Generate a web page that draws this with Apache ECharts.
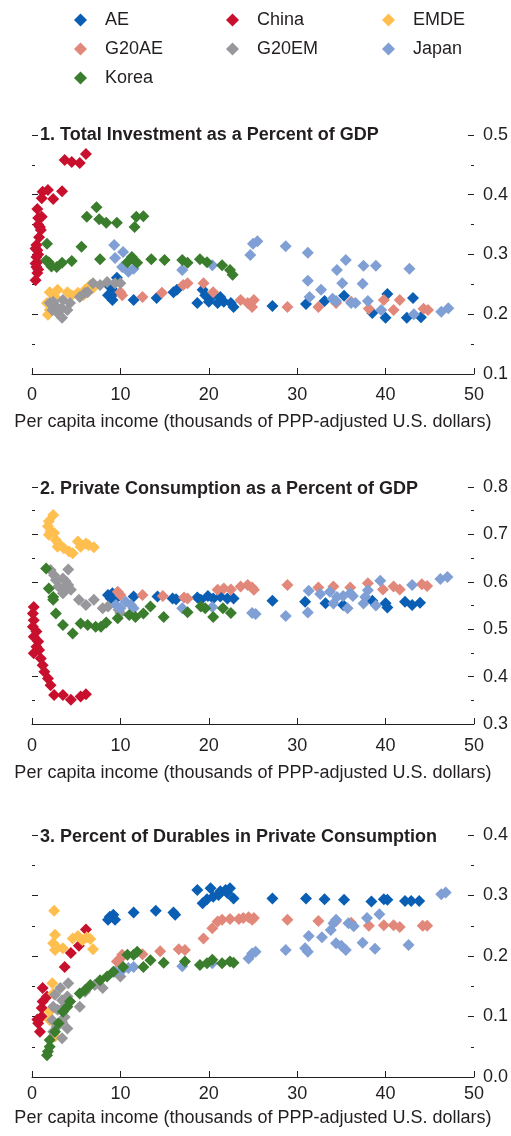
<!DOCTYPE html>
<html>
<head>
<meta charset="utf-8">
<script src="https://cdn.jsdelivr.net/npm/echarts@6/dist/echarts.min.js"></script>
<style>
html,body{margin:0;padding:0;background:#fff;}
#chart{width:511px;height:1136px;}
</style>
</head>
<body>
<div id="chart"></div>
<script>
// ---------- DATA ----------
const seriesNames = ['AE','China','EMDE','G20AE','G20EM','Japan','Korea'];
const panelTitles = [
  '1. Total Investment as a Percent of GDP',
  '2. Private Consumption as a Percent of GDP',
  '3. Percent of Durables in Private Consumption'
];
const xTicks = [0,10,20,30,40,50];
const yRanges = [[0.1,0.5],[0.3,0.8],[0.0,0.4]];
const xAxisName = 'Per capita income (thousands of PPP-adjusted U.S. dollars)';

// Panel 1: total investment / GDP
const p1_AE = [[9.6,0.261],[8.8,0.246],[9.4,0.237],[8.6,0.232],[9.1,0.224],[11.5,0.224],[14.1,0.227],[16.0,0.237],[16.4,0.241],[19.3,0.241],[19.6,0.232],[18.7,0.219],[20.0,0.221],[20.5,0.232],[21.3,0.229],[21.7,0.221],[22.5,0.219],[22.8,0.212],[21.0,0.219],[27.2,0.214],[31.0,0.217],[33.1,0.222],[35.3,0.231],[38.5,0.202],[40.0,0.194],[40.2,0.234],[42.4,0.194],[43.1,0.227],[44.0,0.195]];
const p1_China = [[3.7,0.458],[4.5,0.455],[5.4,0.453],[6.1,0.468],[1.2,0.405],[1.8,0.408],[1.1,0.394],[2.4,0.393],[3.4,0.406],[0.6,0.376],[0.7,0.361],[1.1,0.363],[0.9,0.346],[1.0,0.341],[0.8,0.329],[0.5,0.316],[0.6,0.307],[0.5,0.296],[0.6,0.287],[0.5,0.279],[0.6,0.269],[0.4,0.257],[0.7,0.350],[0.4,0.310],[0.7,0.300],[0.4,0.285],[0.7,0.275]];
const p1_EMDE = [[2.0,0.237],[2.6,0.229],[1.7,0.219],[2.0,0.207],[1.8,0.199],[4.0,0.237],[4.5,0.232],[5.2,0.236],[6.0,0.241],[6.6,0.249],[6.9,0.244],[5.8,0.232],[2.9,0.241]];
const p1_G20AE = [[10.0,0.237],[10.2,0.232],[12.5,0.229],[14.7,0.236],[17.1,0.249],[17.6,0.252],[19.4,0.252],[20.5,0.237],[23.6,0.224],[24.4,0.219],[24.9,0.212],[25.1,0.224],[28.9,0.212],[32.4,0.212],[34.4,0.219],[36.1,0.221],[38.1,0.209],[39.8,0.224],[40.9,0.207],[41.6,0.224],[44.3,0.209],[44.8,0.207]];
const p1_G20EM = [[2.0,0.219],[2.4,0.221],[2.8,0.212],[2.3,0.207],[3.4,0.210],[2.9,0.202],[3.4,0.194],[4.0,0.207],[4.3,0.219],[5.4,0.229],[6.0,0.236],[6.9,0.252],[7.7,0.249],[8.5,0.254],[9.4,0.252],[10.0,0.252],[6.3,0.237],[3.5,0.224]];
const p1_Japan = [[9.3,0.316],[10.3,0.304],[9.4,0.294],[10.8,0.287],[10.2,0.279],[10.9,0.271],[11.5,0.276],[17.0,0.274],[20.4,0.282],[25.0,0.318],[24.7,0.299],[25.5,0.322],[28.7,0.314],[31.2,0.303],[31.2,0.256],[32.7,0.241],[31.4,0.229],[34.5,0.274],[35.5,0.291],[35.1,0.252],[37.5,0.281],[38.9,0.281],[37.4,0.251],[38.0,0.222],[39.5,0.207],[42.7,0.276],[43.2,0.200],[46.3,0.204],[47.1,0.210],[34.0,0.226],[34.4,0.222],[36.1,0.219],[36.6,0.219]];
const p1_Korea = [[7.3,0.379],[6.2,0.363],[7.6,0.359],[8.4,0.353],[9.6,0.353],[11.8,0.363],[12.6,0.364],[11.6,0.346],[1.7,0.318],[5.6,0.313],[1.9,0.287],[2.8,0.279],[3.4,0.286],[4.5,0.289],[7.7,0.292],[10.8,0.287],[11.3,0.296],[11.9,0.286],[13.5,0.292],[15.0,0.291],[17.0,0.291],[17.6,0.286],[19.0,0.292],[19.8,0.287],[21.5,0.282],[22.4,0.274],[22.7,0.266],[2.2,0.280],[1.6,0.290]];

// Panel 2: private consumption / GDP
const p2_AE = [[8.6,0.572],[9.1,0.576],[9.5,0.569],[8.9,0.565],[9.8,0.570],[11.5,0.569],[14.2,0.569],[15.9,0.565],[16.3,0.563],[18.7,0.567],[19.1,0.562],[19.9,0.570],[20.5,0.565],[21.3,0.569],[22.1,0.565],[22.8,0.565],[27.2,0.560],[30.9,0.558],[33.2,0.555],[35.2,0.551],[38.5,0.560],[40.0,0.555],[40.2,0.546],[42.2,0.558],[43.0,0.551],[43.9,0.556]];
const p2_China = [[0.2,0.547],[0.1,0.533],[0.2,0.519],[0.1,0.505],[0.5,0.495],[0.2,0.484],[0.7,0.474],[0.5,0.463],[0.8,0.456],[0.2,0.449],[1.0,0.438],[1.2,0.424],[1.4,0.410],[1.8,0.396],[2.1,0.382],[2.5,0.361],[3.5,0.361],[4.4,0.351],[5.5,0.358],[6.1,0.363]];
const p2_EMDE = [[2.4,0.741],[1.9,0.728],[1.8,0.717],[2.1,0.706],[2.5,0.703],[1.9,0.699],[2.7,0.688],[3.0,0.681],[2.9,0.674],[3.6,0.671],[4.2,0.664],[4.6,0.660],[5.2,0.685],[5.5,0.674],[6.1,0.681],[6.4,0.677],[7.0,0.673]];
const p2_G20AE = [[9.7,0.579],[10.0,0.572],[12.5,0.572],[14.8,0.570],[17.2,0.567],[17.6,0.565],[21.0,0.583],[21.7,0.586],[22.5,0.584],[23.6,0.590],[24.4,0.593],[24.9,0.588],[25.1,0.583],[28.9,0.593],[32.4,0.588],[34.1,0.590],[36.0,0.588],[38.0,0.597],[39.7,0.584],[40.9,0.590],[41.6,0.584],[44.1,0.595],[44.7,0.591]];
const p2_G20EM = [[2.1,0.625],[2.5,0.614],[4.1,0.626],[2.7,0.604],[3.5,0.607],[3.0,0.590],[3.6,0.586],[4.1,0.593],[4.4,0.583],[3.5,0.576],[5.3,0.562],[6.1,0.551],[7.0,0.562],[8.0,0.544],[8.6,0.548],[9.8,0.541],[10.0,0.534],[3.8,0.601]];
const p2_Japan = [[9.5,0.551],[10.0,0.544],[10.6,0.558],[11.2,0.551],[11.5,0.544],[17.0,0.544],[20.4,0.547],[24.9,0.534],[25.3,0.532],[28.7,0.528],[31.2,0.535],[31.3,0.581],[32.6,0.574],[33.7,0.579],[34.1,0.554],[34.5,0.568],[35.2,0.570],[36.0,0.576],[36.3,0.570],[35.7,0.544],[37.5,0.554],[37.7,0.568],[38.0,0.582],[38.9,0.550],[39.4,0.602],[43.0,0.593],[46.2,0.606],[47.0,0.610]];
const p2_Korea = [[1.6,0.628],[1.9,0.586],[2.4,0.568],[2.4,0.562],[2.7,0.533],[3.5,0.509],[4.6,0.491],[5.5,0.512],[6.3,0.509],[7.2,0.505],[7.8,0.505],[8.4,0.514],[9.7,0.523],[11.0,0.530],[11.7,0.526],[12.6,0.533],[13.4,0.548],[14.9,0.526],[17.6,0.536],[19.1,0.548],[19.6,0.544],[20.5,0.526],[21.6,0.544],[22.5,0.534]];

// Panel 3: durables share of private consumption
const p3_AE = [[18.7,0.309],[20.2,0.312],[19.3,0.287],[19.8,0.294],[20.5,0.298],[21.1,0.301],[21.3,0.307],[21.9,0.309],[22.4,0.312],[22.8,0.295],[22.1,0.304],[8.8,0.265],[9.2,0.268],[9.4,0.260],[8.6,0.260],[11.5,0.272],[14.0,0.275],[16.0,0.272],[16.2,0.268],[27.2,0.295],[31.0,0.295],[33.1,0.294],[35.3,0.293],[38.4,0.290],[39.8,0.294],[40.2,0.293],[42.2,0.291],[42.9,0.291],[43.8,0.291]];
const p3_China = [[0.9,0.075],[0.7,0.089],[0.6,0.095],[1.1,0.114],[1.2,0.125],[1.2,0.147],[1.7,0.133],[3.7,0.182],[4.4,0.205],[5.3,0.217],[6.1,0.244],[1.1,0.100]];
const p3_EMDE = [[2.5,0.275],[2.6,0.235],[2.4,0.221],[2.8,0.215],[3.5,0.213],[2.6,0.210],[4.6,0.229],[5.2,0.233],[5.7,0.226],[6.2,0.231],[6.6,0.228],[6.9,0.211],[2.3,0.155],[2.4,0.138],[2.0,0.108],[2.0,0.094],[2.6,0.067]];
const p3_G20AE = [[9.6,0.191],[10.0,0.196],[10.2,0.202],[12.5,0.203],[14.5,0.208],[16.6,0.211],[17.3,0.210],[19.4,0.229],[20.4,0.246],[21.0,0.257],[21.5,0.260],[22.4,0.261],[23.4,0.261],[23.9,0.263],[24.5,0.264],[25.1,0.263],[24.9,0.260],[28.9,0.260],[32.4,0.258],[34.4,0.258],[36.1,0.255],[38.1,0.250],[39.8,0.251],[40.9,0.251],[41.6,0.248],[44.2,0.250],[44.7,0.250]];
const p3_G20EM = [[4.1,0.155],[3.2,0.147],[2.6,0.136],[3.4,0.127],[4.0,0.133],[4.3,0.125],[2.4,0.116],[2.9,0.111],[3.5,0.114],[3.7,0.099],[2.3,0.094],[2.8,0.083],[3.4,0.091],[4.0,0.080],[2.4,0.075],[3.4,0.064],[5.4,0.116],[6.0,0.141],[7.1,0.152],[8.0,0.147],[10.0,0.166]];
const p3_Japan = [[9.4,0.174],[10.2,0.177],[10.9,0.180],[11.5,0.182],[17.0,0.183],[20.4,0.188],[24.9,0.204],[24.5,0.196],[25.3,0.207],[28.7,0.210],[30.9,0.213],[31.2,0.207],[31.3,0.233],[32.8,0.231],[33.8,0.243],[34.1,0.254],[34.4,0.260],[34.4,0.221],[35.0,0.217],[35.5,0.210],[35.8,0.254],[36.4,0.249],[37.4,0.222],[37.9,0.263],[38.8,0.212],[39.3,0.269],[42.6,0.218],[46.3,0.302],[46.8,0.305]];
const p3_Korea = [[1.7,0.036],[1.8,0.042],[2.0,0.050],[2.0,0.061],[2.6,0.075],[3.0,0.089],[3.5,0.108],[4.0,0.116],[4.3,0.125],[5.4,0.138],[6.0,0.144],[6.6,0.152],[7.7,0.160],[8.5,0.166],[9.2,0.174],[10.3,0.182],[10.8,0.202],[11.5,0.202],[11.9,0.207],[12.6,0.182],[13.4,0.193],[14.9,0.189],[17.3,0.191],[19.0,0.185],[19.8,0.188],[20.4,0.194],[21.5,0.188],[22.4,0.191],[22.8,0.189]];

const panelData = [
  {AE:p1_AE, China:p1_China, EMDE:p1_EMDE, G20AE:p1_G20AE, G20EM:p1_G20EM, Japan:p1_Japan, Korea:p1_Korea},
  {AE:p2_AE, China:p2_China, EMDE:p2_EMDE, G20AE:p2_G20AE, G20EM:p2_G20EM, Japan:p2_Japan, Korea:p2_Korea},
  {AE:p3_AE, China:p3_China, EMDE:p3_EMDE, G20AE:p3_G20AE, G20EM:p3_G20EM, Japan:p3_Japan, Korea:p3_Korea}
];

// ---------- STYLE ----------
const colors = {AE:'#0a5fb4', China:'#c8102e', EMDE:'#ffbf4f', G20AE:'#e2887a', G20EM:'#98989c', Japan:'#7f9fd5', Korea:'#3a7d2c'};
const FONT = "'Liberation Sans', Arial, sans-serif";
const TXT = '#231f20';
const grids = [
  {left:32, width:442, top:135, height:239},
  {left:32, width:442, top:487, height:237},
  {left:32, width:442, top:835, height:242}
];
const labelMargins = [12, 13, 8];
const nameGaps = [39, 40, 32];
const titleTops = [126, 480, 828];

const xAxes = [], yAxes = [], series = [], titles = [];
for (let p = 0; p < 3; p++) {
  xAxes.push({
    type:'value', gridIndex:p, min:0, max:50, interval:10,
    name:xAxisName, nameLocation:'middle', nameGap:nameGaps[p],
    nameTextStyle:{fontSize:18, color:TXT, fontFamily:FONT},
    axisLine:{show:true, lineStyle:{color:TXT, width:1}},
    axisTick:{show:true, inside:true, length:6, lineStyle:{color:TXT}},
    axisLabel:{fontSize:18, color:TXT, fontFamily:FONT, margin:labelMargins[p]},
    splitLine:{show:false}
  });
  const [mn, mx] = yRanges[p];
  const common = {
    type:'value', gridIndex:p, min:mn, max:mx, interval:0.1,
    axisLine:{show:false},
    axisTick:{show:true, inside:true, length:6, lineStyle:{color:TXT}},
    minorTick:{show:true, splitNumber:2, length:3, lineStyle:{color:TXT}},
    splitLine:{show:false}, minorSplitLine:{show:false}
  };
  yAxes.push(Object.assign({}, common, {position:'left', axisLabel:{show:false}}));
  yAxes.push(Object.assign({}, common, {position:'right',
    axisLabel:{show:true, fontSize:18, color:TXT, fontFamily:FONT, margin:9, padding:[6,0,0,0],
      formatter:v => v.toFixed(1)}}));
  titles.push({text:panelTitles[p], left:40, top:titleTops[p], padding:0,
    textStyle:{fontSize:18, fontWeight:'bold', color:TXT, fontFamily:FONT, lineHeight:18}});
  seriesNames.forEach(n => {
    series.push({
      name:n, type:'scatter', xAxisIndex:p, yAxisIndex:2*p+1,
      symbol:'diamond', symbolSize:12,
      itemStyle:{color:colors[n], opacity:1},
      data:panelData[p][n], silent:true, animation:false
    });
  });
}

const legendBase = {
  orient:'vertical', top:5, itemGap:9, itemWidth:13, itemHeight:13, icon:'diamond',
  textStyle:{fontSize:18, color:TXT, fontFamily:FONT, lineHeight:20, padding:[0,0,0,13]},
  selectedMode:false
};
const legends = [
  Object.assign({}, legendBase, {left:69, data:['AE','G20AE','Korea']}),
  Object.assign({}, legendBase, {left:221, data:['China','G20EM']}),
  Object.assign({}, legendBase, {left:377, data:['EMDE','Japan']})
];

const chart = echarts.init(document.getElementById('chart'), null, {renderer:'canvas'});
chart.setOption({
  animation:false,
  backgroundColor:'#fff',
  color:seriesNames.map(n => colors[n]),
  title:titles,
  legend:legends,
  grid:grids,
  xAxis:xAxes,
  yAxis:yAxes,
  series:series
});
</script>
</body>
</html>
